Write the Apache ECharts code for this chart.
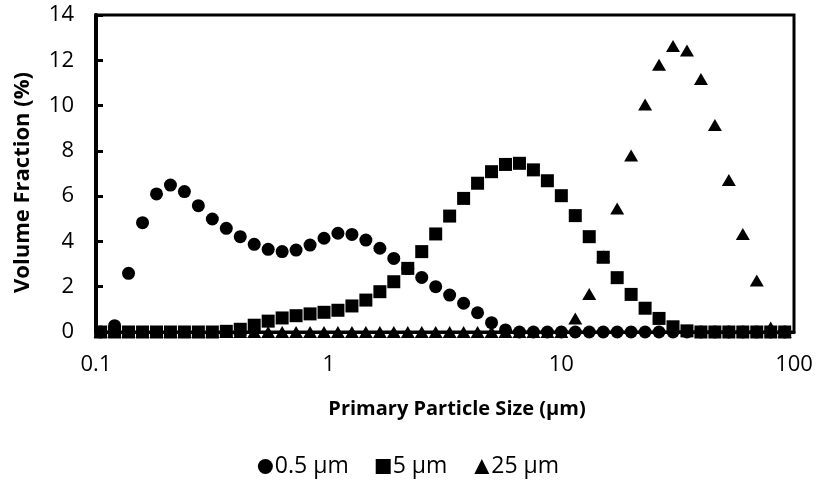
<!DOCTYPE html>
<html>
<head>
<meta charset="utf-8">
<script src="https://cdn.jsdelivr.net/npm/echarts@6/dist/echarts.min.js"></script>
<style>
  html, body { margin: 0; padding: 0; background: #fff; }
  #chart { width: 817px; height: 493px; }
</style>
</head>
<body>
<div id="chart"></div>
<script>
// particle size classes (µm)
const sizes = [0.1047, 0.1202, 0.1380, 0.1585, 0.1820, 0.2089, 0.2399, 0.2754, 0.3162, 0.3631,
  0.4169, 0.4786, 0.5495, 0.6310, 0.7244, 0.8318, 0.9550, 1.096, 1.259, 1.445,
  1.660, 1.905, 2.188, 2.512, 2.884, 3.311, 3.802, 4.365, 5.012, 5.754,
  6.607, 7.586, 8.710, 10.00, 11.48, 13.18, 15.14, 17.38, 19.95, 22.91,
  26.30, 30.20, 34.67, 39.81, 45.71, 52.48, 60.26, 69.18, 79.43, 91.20];

// volume fraction (%) per size class
const frac05 = [0, 0.28, 2.59, 4.83, 6.10, 6.49, 6.20, 5.58, 4.99, 4.58,
  4.21, 3.87, 3.65, 3.55, 3.62, 3.84, 4.14, 4.36, 4.31, 4.06,
  3.70, 3.25, 2.80, 2.41, 2.00, 1.63, 1.27, 0.85, 0.41, 0.09,
  0, 0, 0, 0, 0, 0, 0, 0, 0, 0,
  0, 0, 0, 0, 0, 0, 0, 0, 0, 0];
const frac5 = [0, 0, 0, 0, 0, 0, 0, 0, 0, 0.03,
  0.12, 0.30, 0.48, 0.62, 0.72, 0.80, 0.87, 0.96, 1.15, 1.41,
  1.78, 2.22, 2.81, 3.55, 4.33, 5.12, 5.90, 6.57, 7.08, 7.40,
  7.45, 7.16, 6.68, 6.02, 5.14, 4.21, 3.30, 2.40, 1.66, 1.05,
  0.60, 0.23, 0.05, 0, 0, 0, 0, 0, 0, 0];
const frac25 = [0, 0, 0, 0, 0, 0, 0, 0, 0, 0,
  0, 0, 0, 0, 0, 0, 0, 0, 0, 0,
  0, 0, 0, 0, 0, 0, 0, 0, 0, 0,
  0, 0, 0, 0, 0.60, 1.68, 3.35, 5.45, 7.80, 10.05,
  11.80, 12.63, 12.43, 11.17, 9.14, 6.71, 4.33, 2.27, 0.20, 0];

const seriesNames = ['0.5 µm', '5 µm', '25 µm'];
const xTicks = [0.1, 1, 10, 100];

const font = '"Open Sans", sans-serif';
const pairs = vals => sizes.map((s, i) => [s, vals[i]]);

const chart = echarts.init(document.getElementById('chart'));
chart.setOption({
  animation: false,
  grid: {
    left: 96, right: 23, top: 15, bottom: 161,
    show: true, borderColor: '#000', borderWidth: 3, backgroundColor: 'transparent'
  },
  legend: {
    bottom: 10, left: 'center', itemGap: 27, itemWidth: 15, itemHeight: 15,
    textStyle: { fontFamily: font, fontSize: 23, color: '#000', padding: [0, 0, 0, -3] },
    data: [
      { name: seriesNames[0], icon: 'circle' },
      { name: seriesNames[1], icon: 'rect' },
      { name: seriesNames[2], icon: 'triangle' }
    ]
  },
  xAxis: {
    type: 'log', logBase: 10, min: 0.1, max: 100,
    name: 'Primary Particle Size (µm)', nameLocation: 'middle', nameGap: 67,
    nameTextStyle: { fontFamily: font, fontSize: 20, fontWeight: 'bold', color: '#000',
      padding: [0, 0, 0, 24] },
    axisLine: { lineStyle: { color: '#000', width: 3 } },
    axisTick: { show: false },
    splitLine: { show: false },
    axisLabel: {
      fontFamily: font, fontSize: 22, color: '#000', margin: 22,
      formatter: v => xTicks.find(t => Math.abs(t - v) / t < 1e-6) !== undefined ? String(v) : ''
    }
  },
  yAxis: {
    type: 'value', min: 0, max: 14, interval: 2,
    name: 'Volume Fraction (%)', nameLocation: 'middle', nameGap: 62,
    nameTextStyle: { fontFamily: font, fontSize: 22, fontWeight: 'bold', color: '#000',
      padding: [0, 18, 0, 0] },
    axisLine: { show: true, lineStyle: { color: '#000', width: 4 } },
    axisTick: { show: true, inside: true, length: 7, lineStyle: { color: '#000', width: 3 } },
    splitLine: { show: false },
    axisLabel: { fontFamily: font, fontSize: 22, color: '#000', margin: 22 }
  },
  series: [
    { name: seriesNames[0], type: 'scatter', symbol: 'circle', symbolSize: 13,
      itemStyle: { color: '#000', opacity: 1 }, data: pairs(frac05) },
    { name: seriesNames[1], type: 'scatter', symbol: 'rect', symbolSize: 13,
      itemStyle: { color: '#000', opacity: 1 }, data: pairs(frac5) },
    { name: seriesNames[2], type: 'scatter', symbol: 'triangle', symbolSize: [14, 12],
      itemStyle: { color: '#000', opacity: 1 }, data: pairs(frac25) }
  ]
});
</script>
</body>
</html>
